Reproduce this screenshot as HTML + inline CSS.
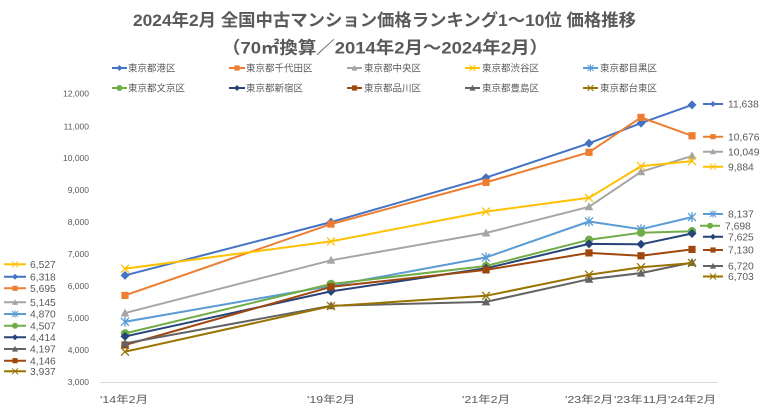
<!DOCTYPE html>
<html><head><meta charset="utf-8"><style>
html,body{margin:0;padding:0;background:#fff;}
svg{display:block;}
text{font-family:"Liberation Sans","Noto Sans CJK JP",sans-serif;fill:#595959;}
.t{font-weight:bold;font-size:17px;}
.lg{font-size:9.5px;}
.ya{font-size:8.5px;}
.v{font-size:10.3px;}
.xa{font-size:10px;}
</style></head><body>
<svg width="768" height="411" viewBox="0 0 768 411" xmlns="http://www.w3.org/2000/svg">
<defs>
<!-- big markers -->
<marker id="m1" markerUnits="userSpaceOnUse" overflow="visible" refX="0" refY="0" markerWidth="10" markerHeight="10"><path d="M0,-4.5L4.5,0L0,4.5L-4.5,0Z" fill="#4472C4"/></marker>
<marker id="m2" markerUnits="userSpaceOnUse" overflow="visible" refX="0" refY="0" markerWidth="10" markerHeight="10"><rect x="-3.6" y="-3.6" width="7.2" height="7.2" fill="#ED7D31"/></marker>
<marker id="m3" markerUnits="userSpaceOnUse" overflow="visible" refX="0" refY="0" markerWidth="10" markerHeight="10"><path d="M0,-4.5L4.3,3.5L-4.3,3.5Z" fill="#A5A5A5"/></marker>
<marker id="m4" markerUnits="userSpaceOnUse" overflow="visible" refX="0" refY="0" markerWidth="10" markerHeight="10"><path d="M-4,-4L4,4M-4,4L4,-4" stroke="#FFC000" stroke-width="1.3" fill="none"/></marker>
<marker id="m5" markerUnits="userSpaceOnUse" overflow="visible" refX="0" refY="0" markerWidth="10" markerHeight="10"><path d="M-4,-4L4,4M-4,4L4,-4M0,-5L0,5" stroke="#5B9BD5" stroke-width="1.3" fill="none"/></marker>
<marker id="m6" markerUnits="userSpaceOnUse" overflow="visible" refX="0" refY="0" markerWidth="10" markerHeight="10"><circle r="4.2" fill="#70AD47"/></marker>
<marker id="m7" markerUnits="userSpaceOnUse" overflow="visible" refX="0" refY="0" markerWidth="10" markerHeight="10"><path d="M0,-4.5L4.5,0L0,4.5L-4.5,0Z" fill="#264478"/></marker>
<marker id="m8" markerUnits="userSpaceOnUse" overflow="visible" refX="0" refY="0" markerWidth="10" markerHeight="10"><rect x="-3.6" y="-3.6" width="7.2" height="7.2" fill="#9E480E"/></marker>
<marker id="m9" markerUnits="userSpaceOnUse" overflow="visible" refX="0" refY="0" markerWidth="10" markerHeight="10"><path d="M0,-4.5L4.3,3.5L-4.3,3.5Z" fill="#636363"/></marker>
<marker id="m10" markerUnits="userSpaceOnUse" overflow="visible" refX="0" refY="0" markerWidth="10" markerHeight="10"><path d="M-4,-4L4,4M-4,4L4,-4" stroke="#997300" stroke-width="1.3" fill="none"/></marker>
<!-- small markers -->
<marker id="s1" markerUnits="userSpaceOnUse" overflow="visible" refX="0" refY="0" markerWidth="10" markerHeight="10"><path d="M0,-3L3,0L0,3L-3,0Z" fill="#4472C4"/></marker>
<marker id="s2" markerUnits="userSpaceOnUse" overflow="visible" refX="0" refY="0" markerWidth="10" markerHeight="10"><rect x="-2.6" y="-2.6" width="5.2" height="5.2" fill="#ED7D31"/></marker>
<marker id="s3" markerUnits="userSpaceOnUse" overflow="visible" refX="0" refY="0" markerWidth="10" markerHeight="10"><path d="M0,-3.2L3,2.6L-3,2.6Z" fill="#A5A5A5"/></marker>
<marker id="s4" markerUnits="userSpaceOnUse" overflow="visible" refX="0" refY="0" markerWidth="10" markerHeight="10"><path d="M-3,-3L3,3M-3,3L3,-3" stroke="#FFC000" stroke-width="1" fill="none"/></marker>
<marker id="s5" markerUnits="userSpaceOnUse" overflow="visible" refX="0" refY="0" markerWidth="10" markerHeight="10"><path d="M-3,-3L3,3M-3,3L3,-3M0,-3.8L0,3.8" stroke="#5B9BD5" stroke-width="1" fill="none"/></marker>
<marker id="s6" markerUnits="userSpaceOnUse" overflow="visible" refX="0" refY="0" markerWidth="10" markerHeight="10"><circle r="3" fill="#70AD47"/></marker>
<marker id="s7" markerUnits="userSpaceOnUse" overflow="visible" refX="0" refY="0" markerWidth="10" markerHeight="10"><path d="M0,-3L3,0L0,3L-3,0Z" fill="#264478"/></marker>
<marker id="s8" markerUnits="userSpaceOnUse" overflow="visible" refX="0" refY="0" markerWidth="10" markerHeight="10"><rect x="-2.6" y="-2.6" width="5.2" height="5.2" fill="#9E480E"/></marker>
<marker id="s9" markerUnits="userSpaceOnUse" overflow="visible" refX="0" refY="0" markerWidth="10" markerHeight="10"><path d="M0,-3.2L3,2.6L-3,2.6Z" fill="#636363"/></marker>
<marker id="s10" markerUnits="userSpaceOnUse" overflow="visible" refX="0" refY="0" markerWidth="10" markerHeight="10"><path d="M-3,-3L3,3M-3,3L3,-3" stroke="#997300" stroke-width="1" fill="none"/></marker>
</defs>

<!-- Title -->
<text class="t" x="384.5" y="26" text-anchor="middle" textLength="503" lengthAdjust="spacingAndGlyphs">2024年2月 全国中古マンション価格ランキング1～10位 価格推移</text>
<text class="t" x="385" y="53.5" text-anchor="middle" textLength="326" lengthAdjust="spacingAndGlyphs">（70㎡換算／2014年2月～2024年2月）</text>

<!-- Legend -->
<g fill="none" stroke-width="2">
<polyline points="112,68 119.5,68 127,68" stroke="#4472C4" marker-mid="url(#s1)"/>
<polyline points="229,68 237,68 245,68" stroke="#ED7D31" marker-mid="url(#s2)"/>
<polyline points="347,68 354.5,68 362,68" stroke="#A5A5A5" marker-mid="url(#s3)"/>
<polyline points="465,68 472.5,68 480,68" stroke="#FFC000" marker-mid="url(#s4)"/>
<polyline points="583,68 590.5,68 598,68" stroke="#5B9BD5" marker-mid="url(#s5)"/>
<polyline points="112,88 119.5,88 127,88" stroke="#70AD47" marker-mid="url(#s6)"/>
<polyline points="229,88 237,88 245,88" stroke="#264478" marker-mid="url(#s7)"/>
<polyline points="347,88 354.5,88 362,88" stroke="#9E480E" marker-mid="url(#s8)"/>
<polyline points="465,88 472.5,88 480,88" stroke="#636363" marker-mid="url(#s9)"/>
<polyline points="583,88 590.5,88 598,88" stroke="#997300" marker-mid="url(#s10)"/>
</g>
<g class="lg">
<text x="128" y="71.5">東京都港区</text>
<text x="246" y="71.5">東京都千代田区</text>
<text x="364" y="71.5">東京都中央区</text>
<text x="482" y="71.5">東京都渋谷区</text>
<text x="600" y="71.5">東京都目黒区</text>
<text x="128" y="91.5">東京都文京区</text>
<text x="246" y="91.5">東京都新宿区</text>
<text x="364" y="91.5">東京都品川区</text>
<text x="482" y="91.5">東京都豊島区</text>
<text x="600" y="91.5">東京都台東区</text>
</g>

<!-- Y axis labels -->
<g class="ya" text-anchor="end">
<text x="89" y="96.5">12,000</text>
<text x="89" y="129.5">11,000</text>
<text x="89" y="161">10,000</text>
<text x="89" y="193">9,000</text>
<text x="89" y="225">8,000</text>
<text x="89" y="257">7,000</text>
<text x="89" y="289">6,000</text>
<text x="89" y="321">5,000</text>
<text x="89" y="353">4,000</text>
<text x="89" y="385">3,000</text>
</g>

<!-- X axis -->
<line x1="100" y1="382.5" x2="718" y2="382.5" stroke="#D9D9D9" stroke-width="1"/>
<g class="xa" text-anchor="middle">
<text x="124" y="403" textLength="48" lengthAdjust="spacingAndGlyphs">'14年2月</text>
<text x="331" y="403" textLength="48" lengthAdjust="spacingAndGlyphs">'19年2月</text>
<text x="486" y="403" textLength="48" lengthAdjust="spacingAndGlyphs">'21年2月</text>
<text x="589" y="403" textLength="48" lengthAdjust="spacingAndGlyphs">'23年2月</text>
<text x="641" y="403" textLength="54" lengthAdjust="spacingAndGlyphs">'23年11月</text>
<text x="692" y="403" textLength="48" lengthAdjust="spacingAndGlyphs">'24年2月</text>
</g>

<!-- Series -->
<g fill="none" stroke-width="2" stroke-linejoin="round">
<polyline stroke="#4472C4" marker-start="url(#m1)" marker-mid="url(#m1)" marker-end="url(#m1)" points="125,275.4 331,222.1 486,177.6 589,143.3 641,123.1 692,104.9"/>
<polyline stroke="#ED7D31" marker-start="url(#m2)" marker-mid="url(#m2)" marker-end="url(#m2)" points="125,295.4 331,224.1 486,182.4 589,152.3 641,117.4 692,135.8"/>
<polyline stroke="#A5A5A5" marker-start="url(#m3)" marker-mid="url(#m3)" marker-end="url(#m3)" points="125,313.0 331,260.3 486,233.0 589,206.8 641,171.8 692,155.9"/>
<polyline stroke="#FFC000" marker-start="url(#m4)" marker-mid="url(#m4)" marker-end="url(#m4)" points="125,268.7 331,241.4 486,211.6 589,197.8 641,166.1 692,161.1"/>
<polyline stroke="#5B9BD5" marker-start="url(#m5)" marker-mid="url(#m5)" marker-end="url(#m5)" points="125,321.8 331,285.9 486,257.4 589,221.5 641,229.2 692,217.1"/>
<polyline stroke="#70AD47" marker-start="url(#m6)" marker-mid="url(#m6)" marker-end="url(#m6)" points="125,333.4 331,284.0 486,266.0 589,239.8 641,232.7 692,231.2"/>
<polyline stroke="#264478" marker-start="url(#m7)" marker-mid="url(#m7)" marker-end="url(#m7)" points="125,336.4 331,291.4 486,268.3 589,243.9 641,244.3 692,233.5"/>
<polyline stroke="#9E480E" marker-start="url(#m8)" marker-mid="url(#m8)" marker-end="url(#m8)" points="125,345.0 331,286.9 486,269.9 589,252.9 641,255.8 692,249.4"/>
<polyline stroke="#636363" marker-start="url(#m9)" marker-mid="url(#m9)" marker-end="url(#m9)" points="125,343.4 331,305.8 486,301.9 589,279.2 641,273.1 692,262.5"/>
<polyline stroke="#997300" marker-start="url(#m10)" marker-mid="url(#m10)" marker-end="url(#m10)" points="125,351.7 331,306.1 486,295.8 589,274.7 641,267.3 692,263.1"/>
</g>

<!-- Left value labels -->
<g fill="none" stroke-width="2">
<polyline stroke="#FFC000" marker-mid="url(#s4)" points="4,264.3 15,264.3 26,264.3"/>
<polyline stroke="#4472C4" marker-mid="url(#s1)" points="4,276.7 15,276.7 26,276.7"/>
<polyline stroke="#ED7D31" marker-mid="url(#s2)" points="4,288.3 15,288.3 26,288.3"/>
<polyline stroke="#A5A5A5" marker-mid="url(#s3)" points="4,302.3 15,302.3 26,302.3"/>
<polyline stroke="#5B9BD5" marker-mid="url(#s5)" points="4,314 15,314 26,314"/>
<polyline stroke="#70AD47" marker-mid="url(#s6)" points="4,325.7 15,325.7 26,325.7"/>
<polyline stroke="#264478" marker-mid="url(#s7)" points="4,337.3 15,337.3 26,337.3"/>
<polyline stroke="#636363" marker-mid="url(#s9)" points="4,349 15,349 26,349"/>
<polyline stroke="#9E480E" marker-mid="url(#s8)" points="4,360.7 15,360.7 26,360.7"/>
<polyline stroke="#997300" marker-mid="url(#s10)" points="4,371.3 15,371.3 26,371.3"/>
</g>
<g class="v">
<text x="30" y="268">6,527</text>
<text x="30" y="280.4">6,318</text>
<text x="30" y="292">5,695</text>
<text x="30" y="306">5,145</text>
<text x="30" y="317.7">4,870</text>
<text x="30" y="329.4">4,507</text>
<text x="30" y="341">4,414</text>
<text x="30" y="352.7">4,197</text>
<text x="30" y="364.4">4,146</text>
<text x="30" y="375">3,937</text>
</g>

<!-- Right value labels -->
<g fill="none" stroke-width="2">
<polyline stroke="#4472C4" marker-mid="url(#s1)" points="703,104 713,104 723,104"/>
<polyline stroke="#ED7D31" marker-mid="url(#s2)" points="703,136.7 713,136.7 723,136.7"/>
<polyline stroke="#A5A5A5" marker-mid="url(#s3)" points="703,151.7 713,151.7 723,151.7"/>
<polyline stroke="#FFC000" marker-mid="url(#s4)" points="703,166.7 713,166.7 723,166.7"/>
<polyline stroke="#5B9BD5" marker-mid="url(#s5)" points="703,214 713,214 723,214"/>
<polyline stroke="#70AD47" marker-mid="url(#s6)" points="700,225.7 710,225.7 720,225.7"/>
<polyline stroke="#264478" marker-mid="url(#s7)" points="703,236.7 713,236.7 723,236.7"/>
<polyline stroke="#9E480E" marker-mid="url(#s8)" points="703,250 713,250 723,250"/>
<polyline stroke="#636363" marker-mid="url(#s9)" points="703,266 713,266 723,266"/>
<polyline stroke="#997300" marker-mid="url(#s10)" points="703,276.5 713,276.5 723,276.5"/>
</g>
<g class="v">
<text x="728" y="107.7">11,638</text>
<text x="728" y="140.4">10,676</text>
<text x="728" y="155.4">10,049</text>
<text x="728" y="170.4">9,884</text>
<text x="728" y="217.7">8,137</text>
<text x="725" y="229.4">7,698</text>
<text x="728" y="240.4">7,625</text>
<text x="728" y="253.7">7,130</text>
<text x="728" y="269.7">6,720</text>
<text x="728" y="280.2">6,703</text>
</g>
</svg>
</body></html>
